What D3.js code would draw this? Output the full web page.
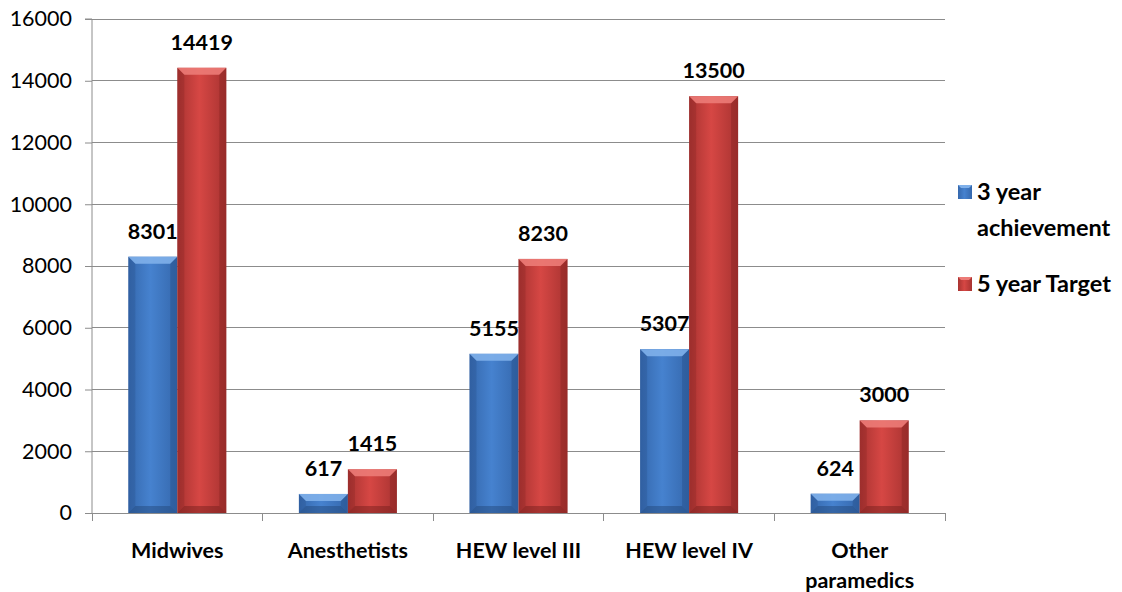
<!DOCTYPE html>
<html><head><meta charset="utf-8">
<script src="https://cdn.jsdelivr.net/npm/d3@7/dist/d3.min.js"></script>
<style>body{margin:0;background:#fff}svg{display:block}</style>
</head><body><svg id="c" width="1122" height="592"></svg>
<script>
const categories = [["Midwives"],["Anesthetists"],["HEW level III"],["HEW level IV"],["Other","paramedics"]];
const achievement = [8301, 617, 5155, 5307, 624];
const target = [14419, 1415, 8230, 13500, 3000];
const seriesNames = ["3 year achievement", "5 year Target"];
const yTicks = [0,2000,4000,6000,8000,10000,12000,14000,16000];

const svg = d3.select("#c");
const font = "Lato, 'Open Sans', sans-serif";
const L = 92, R = 945, T = 19, B = 513;
const x = d3.scaleBand().domain(d3.range(categories.length)).range([L, R]).paddingInner(0).paddingOuter(0);
const y = d3.scaleLinear().domain([0,16000]).range([B, T]);
const bw = 49;

const defs = svg.append("defs");
function grad(id, edge, mid){
  const g = defs.append("linearGradient").attr("id", id).attr("x1","0").attr("x2","1").attr("y1","0").attr("y2","0");
  g.append("stop").attr("offset","0").attr("stop-color", edge);
  g.append("stop").attr("offset","0.45").attr("stop-color", mid);
  g.append("stop").attr("offset","1").attr("stop-color", edge);
}
grad("gb", "#3568ad", "#4682cf");
grad("gr", "#a83331", "#d64744");

// gridlines
svg.append("g").selectAll("line").data(yTicks.slice(1)).join("line")
  .attr("x1", L).attr("x2", R).attr("y1", d=>y(d)).attr("y2", d=>y(d))
  .attr("stroke", "#8c8c8c").attr("stroke-width", 1).attr("shape-rendering","crispEdges");

// y axis
const ya = svg.append("g").attr("transform", `translate(${L},0)`)
  .call(d3.axisLeft(y).tickValues(yTicks).tickSize(7).tickPadding(13).tickFormat(d3.format("d")));
ya.select(".domain").attr("stroke", "#8c8c8c").attr("d", `M-7,${T}H0V${B}`);
ya.selectAll(".tick line").attr("stroke", "#8c8c8c");
ya.selectAll(".tick text").attr("font-family", font).attr("font-size", 21.5).attr("fill", "#000");

// x axis
svg.append("line").attr("x1", L).attr("x2", R).attr("y1", B).attr("y2", B).attr("stroke", "#8c8c8c").attr("shape-rendering","crispEdges");
svg.append("g").selectAll("line").data(d3.range(categories.length+1)).join("line")
  .attr("x1", i => i < categories.length ? x(i) : R).attr("x2", i => i < categories.length ? x(i) : R)
  .attr("y1", B).attr("y2", B+8).attr("stroke", "#8c8c8c").attr("shape-rendering","crispEdges");

// bars
function drawBars(vals, offset, gid, topc, botc){
  const g = svg.append("g");
  vals.forEach((v, i) => {
    const x0 = x(i) + x.bandwidth()/2 + offset;
    const y0 = y(v), h = B - y0;
    g.append("rect").attr("x", x0).attr("y", y0).attr("width", bw).attr("height", h).attr("fill", `url(#${gid})`);
    const b = Math.min(7, h/2);
    g.append("path").attr("d", `M${x0},${y0}H${x0+bw}L${x0+bw-b},${y0+b}H${x0+b}Z`).attr("fill", topc).attr("opacity",0.9);
    g.append("path").attr("d", `M${x0},${B}H${x0+bw}L${x0+bw-b},${B-b}H${x0+b}Z`).attr("fill", botc).attr("opacity",0.5);
    g.append("path").attr("d", `M${x0},${y0}L${x0+b},${y0+b}V${B-b}L${x0},${B}Z`).attr("fill", botc).attr("opacity",0.25);
    g.append("path").attr("d", `M${x0+bw},${y0}L${x0+bw-b},${y0+b}V${B-b}L${x0+bw},${B}Z`).attr("fill", botc).attr("opacity",0.35);
    g.append("text").attr("x", x0 + bw/2).attr("y", y0 - 18).attr("text-anchor","middle")
      .attr("font-family", font).attr("font-weight","bold").attr("font-size", 21.5).attr("fill","#000").text(v);
  });
}
drawBars(achievement, -bw, "gb", "#7fb0ea", "#23497e");
drawBars(target, 0, "gr", "#ec7b77", "#7a1f1e");

// category labels
svg.append("g").selectAll("text").data(categories).join("text")
  .attr("x", (d,i) => x(i) + x.bandwidth()/2).attr("y", 558).attr("text-anchor","middle")
  .attr("font-family", font).attr("font-weight","bold").attr("font-size", 21.5).attr("fill","#000")
  .each(function(d){ d.forEach((t,k)=> d3.select(this).append("tspan").attr("x", d3.select(this).attr("x")).attr("dy", k?30:0).text(t)); });

// legend
const lg = svg.append("g");
const leg = [{lines:["3 year","achievement"], c:"gb", top:"#7fb0ea", y:192},{lines:["5 year Target"], c:"gr", top:"#ec7b77", y:284}];
leg.forEach(l => {
  lg.append("rect").attr("x", 958).attr("y", l.y - 7).attr("width", 14).attr("height", 14).attr("fill", `url(#${l.c})`);
  lg.append("path").attr("d", `M958,${l.y-7}h14l-3,3h-8z`).attr("fill", l.top);
  const t = lg.append("text").attr("x", 977).attr("y", l.y + 8).attr("font-family", font).attr("font-weight","bold").attr("font-size", 23.5).attr("fill","#000");
  l.lines.forEach((s,k)=> t.append("tspan").attr("x", 977).attr("dy", k?36:0).text(s));
});
</script></body></html>
